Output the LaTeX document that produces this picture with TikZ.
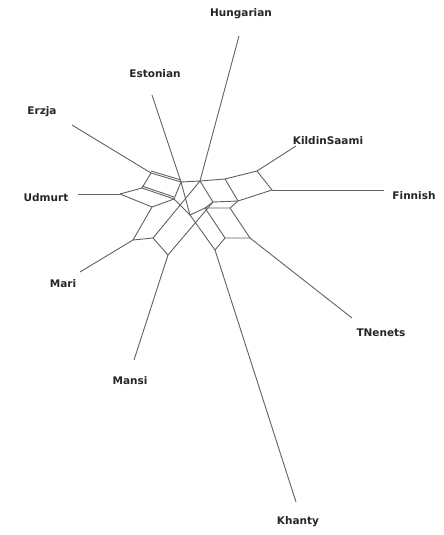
\documentclass[tikz,border=0pt]{standalone}
\usepackage{fontspec}
\setmainfont{DejaVu Sans}
\begin{document}
\begin{tikzpicture}[x=1pt,y=-1pt,
  edge/.style={draw=black!62,line width=0.9pt},
  lab/.style={font=\fontsize{10.5}{12}\selectfont\bfseries, text=black!85, inner sep=0pt}]
\useasboundingbox (0,0) rectangle (444,535);
% leaf labels
\node[lab] (tHu) at (241,14) {Hungarian};
\node[lab] (tEs) at (155,74) {Estonian};
\node[lab] (tEr) at (42,112) {Erzja};
\node[lab] (tKi) at (328,141) {KildinSaami};
\node[lab] (tUd) at (46,198) {Udmurt};
\node[lab] (tFi) at (414,196) {Finnish};
\node[lab] (tMr) at (63,284) {Mari};
\node[lab] (tTN) at (381,333) {TNenets};
\node[lab] (tMa) at (130,381) {Mansi};
\node[lab] (tKh) at (298,522) {Khanty};
% leaf ends
\coordinate (lHu) at (239,36);
\coordinate (lKi) at (296,146);
\coordinate (lFi) at (384,190);
\coordinate (lTN) at (352,318);
\coordinate (lKh) at (296,502);
\coordinate (lMa) at (134,360);
\coordinate (lMr) at (80,272);
\coordinate (lUd) at (78,194);
\coordinate (lEr) at (72,125);
\coordinate (lEs) at (152,95);
% internal nodes
\coordinate (h0) at (200,181);
\coordinate (a1) at (225,179);
\coordinate (k0) at (257,171);
\coordinate (f0) at (272,190);
\coordinate (a2) at (238,201);
\coordinate (a3) at (213,202);
\coordinate (b1) at (205,208);
\coordinate (b2) at (230,208);
\coordinate (t0) at (250,238);
\coordinate (b3) at (225,238);
\coordinate (kh) at (215,250);
\coordinate (c1) at (190,215);
\coordinate (ma) at (168,255);
\coordinate (m1) at (153,238);
\coordinate (er) at (151,173);
\coordinate (er2) at (181,182);
\coordinate (u1) at (142,188);
\coordinate (u2) at (174,199);
\coordinate (ud) at (120,194);
\coordinate (u3) at (152,207);
\coordinate (mr) at (133,240);
% pendant edges
\draw[edge] (lHu) -- (h0);
\draw[edge] (lKi) -- (k0);
\draw[edge] (lFi) -- (f0);
\draw[edge] (lTN) -- (t0);
\draw[edge] (lKh) -- (kh);
\draw[edge] (lMa) -- (ma);
\draw[edge] (lMr) -- (mr);
\draw[edge] (lUd) -- (ud);
\draw[edge] (lEr) -- (er);
\draw[edge] (lEs) -- (er2);
% right cluster
\draw[edge] (h0) -- (a1) -- (k0) -- (f0) -- (a2) -- (a1);
\draw[edge] (a2) -- (a3) -- (h0);
\draw[edge] (a3) -- (b1) -- (b2) -- (a2);
\draw[edge] (b2) -- (t0) -- (b3) -- (b1);
\draw[edge] (b3) -- (kh) -- (c1) -- (b1);
% left cluster
\draw[edge] (er) -- (er2) -- (u2) -- (u1) -- (er);
\draw[edge] ([yshift=2pt]er) -- ([yshift=2pt]er2);
\draw[edge] ([yshift=2pt]u1) -- ([yshift=2pt]u2);
\draw[edge] (ud) -- (u1);
\draw[edge] (ud) -- (u3) -- (u2);
\draw[edge] (u3) -- (mr) -- (m1) -- (ma);
% central crossings
\draw[edge] (c1) -- (u2);
\draw[edge] (ma) -- (a3);
\draw[edge] (m1) -- (h0);
\draw[edge] (er2) -- (h0);
\draw[edge] (er2) -- (c1);
\end{tikzpicture}
\end{document}
